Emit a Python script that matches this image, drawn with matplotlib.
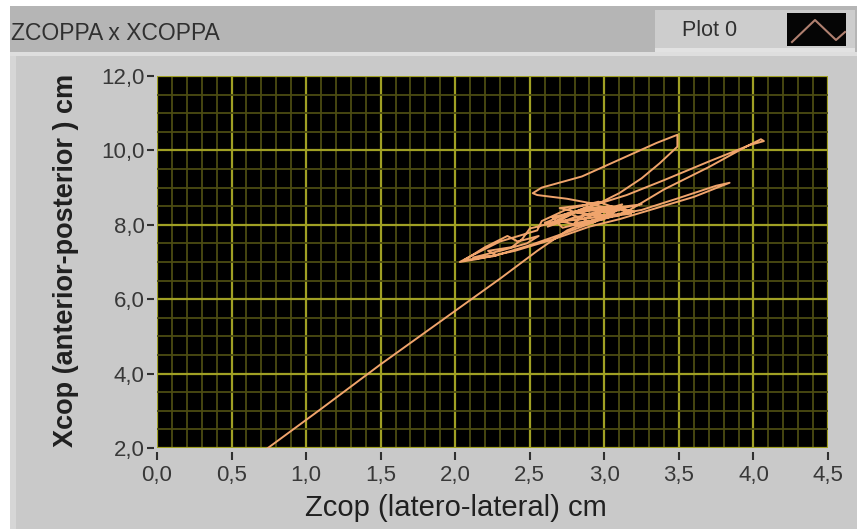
import matplotlib
matplotlib.use("Agg")
import matplotlib.pyplot as plt
from matplotlib.patches import Rectangle
from matplotlib.lines import Line2D
from matplotlib.ticker import MultipleLocator, FixedLocator

# ---- data ----
title = "ZCOPPA x XCOPPA"
legend_label = "Plot 0"
x_label = "Zcop (latero-lateral) cm"
y_label = "Xcop (anterior-posterior ) cm"
x_ticks = [0.0, 0.5, 1.0, 1.5, 2.0, 2.5, 3.0, 3.5, 4.0, 4.5]
x_tick_labels = ["0,0", "0,5", "1,0", "1,5", "2,0", "2,5", "3,0", "3,5", "4,0", "4,5"]
y_ticks = [2.0, 4.0, 6.0, 8.0, 10.0, 12.0]
y_tick_labels = ["2,0", "4,0", "6,0", "8,0", "10,0", "12,0"]

zcop = [0.72, 1.10, 1.50, 1.90, 2.30, 2.55, 2.75,
        2.90, 3.10, 2.95, 2.75, 2.60, 2.85, 3.05, 3.25, 3.00, 2.80,
        2.62, 2.78, 2.92, 3.08, 2.88, 2.68, 2.83, 3.02, 3.18, 2.96, 2.74, 2.58,
        2.55, 2.30, 2.10, 2.03, 2.15, 2.40, 2.65, 2.90, 3.10,
        3.35, 3.60, 3.84, 3.75, 3.50, 3.25, 3.05, 2.85,
        2.70, 2.90, 3.10, 2.95, 2.70, 2.50, 2.45, 2.38, 2.22, 2.28, 2.12, 2.32, 2.48, 2.56, 2.42, 2.35,
        2.20, 2.06, 2.25, 2.50, 2.75, 2.95, 3.15,
        3.40, 3.70, 3.95, 4.05, 4.07, 3.98, 3.70, 3.40, 3.15, 2.95,
        2.75, 2.55, 2.52, 2.58, 2.85, 3.10, 3.35, 3.49, 3.49, 3.37, 3.25, 3.10, 2.95,
        2.80, 3.00, 3.20, 3.05, 2.85, 2.65, 2.72, 2.98, 3.12, 2.86, 2.80, 3.00, 2.90]
xcop = [1.93, 3.05, 4.25, 5.40, 6.55, 7.30, 7.85,
        8.10, 8.25, 8.40, 8.30, 8.05, 8.15, 8.45, 8.55, 8.35, 8.20,
        7.95, 8.28, 8.05, 8.38, 8.48, 8.12, 7.98, 8.22, 8.30, 8.62, 8.40, 8.10,
        7.85, 7.55, 7.15, 7.00, 7.08, 7.30, 7.60, 7.95, 8.15,
        8.45, 8.75, 9.13, 9.05, 8.72, 8.40, 8.25, 8.30,
        8.45, 8.55, 8.40, 8.20, 8.10, 7.90, 7.62, 7.40, 7.30, 7.18, 7.12, 7.32, 7.50, 7.70, 7.55, 7.70,
        7.40, 7.05, 7.15, 7.45, 7.80, 8.10, 8.35,
        8.95, 9.55, 10.10, 10.30, 10.25, 10.15, 9.70, 9.20, 8.80, 8.55,
        8.70, 8.80, 8.85, 9.00, 9.30, 9.75, 10.20, 10.42, 10.10, 9.65, 9.25, 8.85, 8.55,
        8.35, 8.20, 8.35, 8.50, 8.40, 8.20, 7.92, 8.18, 8.55, 8.25, 8.05, 8.15, 8.30]

W, H = 864, 529
fig = plt.figure(figsize=(W / 100, H / 100), dpi=100)
fig.patch.set_facecolor("white")

def frect(x0, y0, x1, y1, color, z=-10):
    # pixel coords (top-left origin) -> figure fraction
    fig.patches.append(Rectangle((x0 / W, 1 - y1 / H), (x1 - x0) / W, (y1 - y0) / H,
                                 transform=fig.transFigure, facecolor=color,
                                 edgecolor="none", zorder=z))

# panel background
frect(10, 6, 857, 529, "#c9c9c9")
frect(10, 6, 857, 52, "#b5b5b5")
frect(10, 52, 857, 56, "#dedede")
frect(10, 56, 16, 529, "#d6d6d6")
# legend box
frect(655, 10, 855, 52, "#cdcdcd")
frect(655, 48, 855, 52, "#e2e2e2")
frect(787, 13, 846, 46, "#050505")

font = ["Liberation Sans", "DejaVu Sans"]

fig.text(11 / W, 1 - 33 / H, title, family=font, fontsize=16.5,
         color="#303030", va="center", ha="left")
fig.text(682 / W, 1 - 31 / H, legend_label, family=font, fontsize=15.5,
         color="#303030", va="center", ha="left")
# legend swatch line
fig.lines.append(Line2D([792 / W, 815 / W, 836 / W, 845 / W],
                        [1 - 42 / H, 1 - 20 / H, 1 - 40 / H, 1 - 32 / H],
                        transform=fig.transFigure, color="#b08070", lw=1.5))

ax = fig.add_axes([157 / W, 1 - 448 / H, (828 - 157) / W, (448 - 76) / H])
ax.set_facecolor("black")
ax.plot(zcop, xcop, color="#f0a46c", lw=1.4, solid_joinstyle="round", zorder=3)
ax.set_xlim(0, 4.5)
ax.set_ylim(2, 12)

ax.xaxis.set_major_locator(FixedLocator(x_ticks))
ax.yaxis.set_major_locator(FixedLocator(y_ticks))
ax.set_xticklabels(x_tick_labels)
ax.set_yticklabels(y_tick_labels)
ax.xaxis.set_minor_locator(MultipleLocator(0.1))
ax.yaxis.set_minor_locator(MultipleLocator(0.5))
ax.grid(which="minor", color="#4c4c12", lw=1.3, zorder=1)
ax.grid(which="major", color="#a0a024", lw=1.6, zorder=2)
ax.set_axisbelow(True)

for s in ax.spines.values():
    s.set_visible(False)
ax.spines["bottom"].set_position(("outward", 3))
ax.spines["left"].set_position(("outward", 2))

ax.tick_params(which="minor", length=0)
ax.tick_params(axis="x", which="major", length=6, width=1.5, color="#303030",
               pad=3, labelsize=16, labelcolor="#383838")
ax.tick_params(axis="y", which="major", length=5, width=1.5, color="#303030",
               pad=2, labelsize=16, labelcolor="#383838")
for lab in ax.get_xticklabels() + ax.get_yticklabels():
    lab.set_family(font)

fig.text(456 / W, 1 - 508 / H, x_label, family=font, fontsize=21,
         color="#202020", ha="center", va="center")
fig.text(66 / W, 1 - 260 / H, y_label, family=font, fontsize=19.5, fontweight="bold",
         color="#202020", ha="center", va="center", rotation=90)

fig.savefig("out.png", dpi=100, facecolor=fig.get_facecolor())
